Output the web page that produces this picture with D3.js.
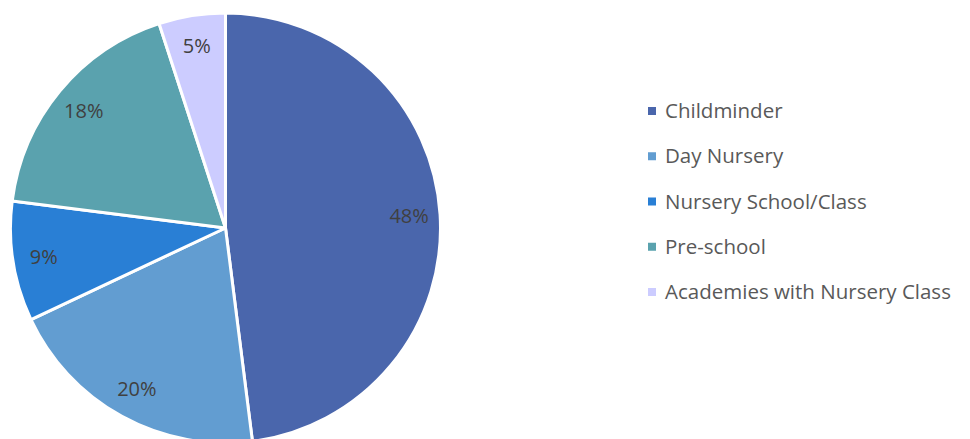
<!DOCTYPE html>
<html>
<head>
<meta charset="utf-8">
<script src="https://cdn.jsdelivr.net/npm/d3@7"></script>
<style>
  body { margin: 0; background: #fff; }
</style>
</head>
<body>
<script>
const width = 970, height = 439;

// data
const categories = ['Childminder', 'Day Nursery', 'Nursery School/Class', 'Pre-school', 'Academies with Nursery Class'];
const shares = [48, 20, 9, 18, 5];
const colours = ['#4a66ac', '#629dd1', '#297fd5', '#5aa2ae', '#ccccff'];

const cx = 225.5, cy = 228, radius = 215;

let svg = d3
  .select('body')
  .append('svg')
  .attr('width', width)
  .attr('height', height);

const color = d3.scaleOrdinal().domain(categories).range(colours);

const pie = d3.pie().sort(null).value((d) => d.value);
const arcs = pie(categories.map((c, i) => ({ name: c, value: shares[i] })));

const arc = d3.arc().innerRadius(0).outerRadius(radius);
const labelArc = d3.arc().innerRadius(184).outerRadius(184);

let g = svg.append('g').attr('transform', 'translate(' + cx + ',' + cy + ')');

g.selectAll('path')
  .data(arcs)
  .enter()
  .append('path')
  .attr('d', arc)
  .attr('fill', (d) => color(d.data.name))
  .attr('stroke', '#fff')
  .attr('stroke-width', 3)
  .attr('stroke-linejoin', 'round');

g.selectAll('text')
  .data(arcs)
  .enter()
  .append('text')
  .attr('transform', (d) => 'translate(' + labelArc.centroid(d) + ')')
  .attr('text-anchor', 'middle')
  .attr('dy', '0.35em')
  .style('font', '20px "Open Sans", sans-serif')
  .style('fill', '#404040')
  .text((d) => d.data.value + '%');

// legend
const legendY = d3.scalePoint().domain(categories).range([111, 292]);

let legend = svg
  .append('g')
  .selectAll('g')
  .data(categories)
  .enter()
  .append('g')
  .attr('transform', (d) => 'translate(648,' + legendY(d) + ')');

legend
  .append('rect')
  .attr('x', 0)
  .attr('y', -4)
  .attr('width', 8)
  .attr('height', 8)
  .attr('fill', (d) => color(d));

legend
  .append('text')
  .attr('x', 17)
  .attr('dy', '0.35em')
  .style('font', '20.5px "Open Sans", sans-serif')
  .style('fill', '#595959')
  .text((d) => d);
</script>
</body>
</html>
